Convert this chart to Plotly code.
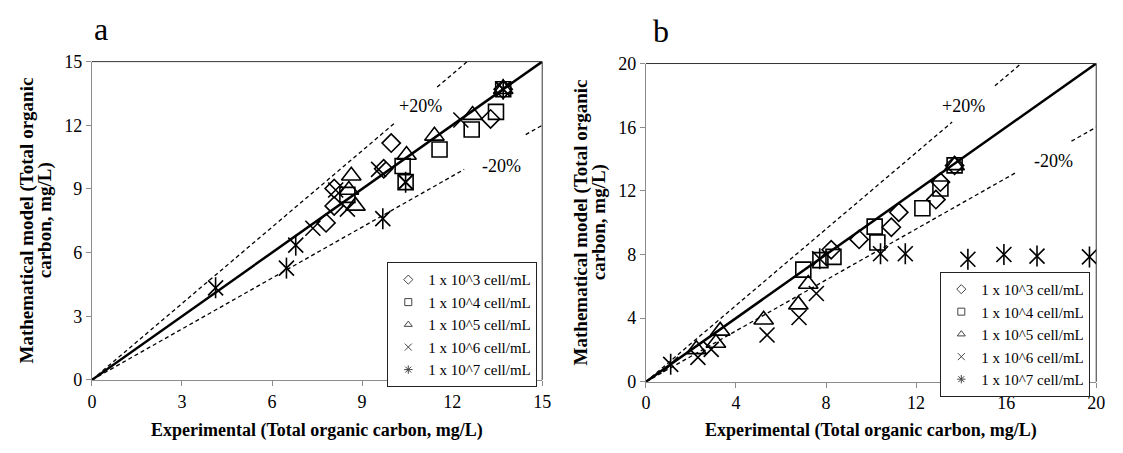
import plotly.graph_objects as go

# ---------------- data ----------------
SERIES_NAMES = ["1 x 10^3 cell/mL", "1 x 10^4 cell/mL", "1 x 10^5 cell/mL",
                "1 x 10^6 cell/mL", "1 x 10^7 cell/mL"]

# Panel a (experimental x, model y)
A_D3_X = [7.8, 8.07, 8.07, 9.72, 9.97, 13.28, 13.7]
A_D3_Y = [7.4, 8.2, 9.02, 9.95, 11.16, 12.3, 13.7]
A_S4_X = [8.51, 10.35, 10.45, 11.58, 12.65, 13.46, 13.7]
A_S4_Y = [8.72, 10.08, 9.32, 10.86, 11.8, 12.63, 13.7]
A_T5_X = [8.56, 8.64, 8.78, 10.48, 11.41, 12.68, 13.7]
A_T5_Y = [8.95, 9.62, 8.2, 10.6, 11.5, 12.48, 13.7]
A_X6_X = [7.36, 8.12, 8.51, 9.55, 10.45, 12.29, 13.7]
A_X6_Y = [7.15, 8.95, 8.05, 9.92, 9.32, 12.25, 13.7]
A_S7_X = [4.12, 6.48, 6.79, 9.69, 10.45, 13.7]
A_S7_Y = [4.34, 5.27, 6.35, 7.6, 9.32, 13.7]

# Panel b
B_D3_X = [8.23, 9.47, 10.9, 11.23, 12.88, 13.08, 13.71]
B_D3_Y = [8.3, 8.95, 9.71, 10.65, 11.45, 12.55, 13.6]
B_S4_X = [6.99, 7.75, 8.33, 10.16, 10.28, 12.28, 13.08, 13.71]
B_S4_Y = [7.05, 7.65, 7.85, 9.75, 8.75, 10.91, 12.15, 13.6]
B_T5_X = [2.24, 3.11, 3.3, 5.23, 6.77, 7.21, 13.71]
B_T5_Y = [2.04, 2.44, 3.2, 3.9, 4.85, 6.15, 13.6]
B_X6_X = [2.31, 2.9, 5.38, 6.8, 7.57]
B_X6_Y = [1.54, 2.04, 2.94, 4.04, 5.55]
B_S7_X = [1.1, 7.72, 10.42, 11.52, 14.3, 15.9, 17.37, 19.7]
B_S7_Y = [1.1, 7.73, 8.05, 8.05, 7.7, 8.0, 7.9, 7.85]

# Reference lines (1:1 and +/-20 %), x breakpoints (None = gap behind label)
A_LINE_X = [0, 15]
A_PLUS_X = [0, 10.1, None, 11.5, 12.5]
A_MINUS_X = [0, 12.4, None, 14.45, 15]
B_LINE_X = [0, 20]
B_PLUS_X = [0, 13.6, None, 15.5, 16.67]
B_MINUS_X = [0, 16.4, None, 18.9, 20]
PLUS_FACTOR = 1.2
MINUS_FACTOR = 0.8

A_TICKS = [0, 3, 6, 9, 12, 15]
B_TICKS = [0, 4, 8, 12, 16, 20]

X_TITLE = "Experimental (Total organic carbon, mg/L)"
Y_TITLE_1 = "Mathematical model (Total organic"
Y_TITLE_2 = "carbon, mg/L)"

# ---------------- figure ----------------
FONT = "Liberation Serif, Times New Roman, serif"
W, H = 1123, 453

fig = go.Figure()


def scale(xs, f):
    return [None if v is None else v * f for v in xs]


def add_panel(xa, ya, legend, line_x, plus_x, minus_x, series):
    # reference lines
    fig.add_trace(go.Scatter(x=line_x, y=line_x, mode="lines", xaxis=xa, yaxis=ya,
                             line=dict(color="black", width=2.5), showlegend=False,
                             hoverinfo="skip"))
    for xs, f in ((plus_x, PLUS_FACTOR), (minus_x, MINUS_FACTOR)):
        fig.add_trace(go.Scatter(x=xs, y=scale(xs, f), mode="lines", xaxis=xa, yaxis=ya,
                                 line=dict(color="black", width=1.3, dash="4px,3px"),
                                 showlegend=False, connectgaps=False, hoverinfo="skip"))
    symbols = ["diamond-open", "square-open", "triangle-up-open", "x-thin-open", None]
    sizes = [14, 15, 17, 15, 15]
    legend_symbols = ["diamond-open", "square-open", "triangle-up-open", "x-thin-open",
                      "asterisk-open"]
    for i, (sx, sy) in enumerate(series):
        if symbols[i] is not None:
            fig.add_trace(go.Scatter(x=sx, y=sy, mode="markers", xaxis=xa, yaxis=ya,
                                     marker=dict(symbol=symbols[i], size=sizes[i], color="black",
                                                 line=dict(color="black", width=1.6)),
                                     name=SERIES_NAMES[i], showlegend=False))
        else:
            for sym in ("x-thin-open", "line-ns-open"):
                fig.add_trace(go.Scatter(x=sx, y=sy, mode="markers", xaxis=xa, yaxis=ya,
                                         marker=dict(symbol=sym, size=sizes[i], color="black",
                                                     line=dict(color="black", width=1.6)),
                                         name=SERIES_NAMES[i], showlegend=False))
        # legend-only entry with small glyph
        fig.add_trace(go.Scatter(x=[None], y=[None], mode="markers", xaxis=xa, yaxis=ya,
                                 marker=dict(symbol=legend_symbols[i], size=7, color="#444",
                                             line=dict(color="#444", width=1)),
                                 name=SERIES_NAMES[i], legend=legend, showlegend=True))


add_panel("x", "y", "legend", A_LINE_X, A_PLUS_X, A_MINUS_X,
          [(A_D3_X, A_D3_Y), (A_S4_X, A_S4_Y), (A_T5_X, A_T5_Y), (A_X6_X, A_X6_Y),
           (A_S7_X, A_S7_Y)])
add_panel("x2", "y2", "legend2", B_LINE_X, B_PLUS_X, B_MINUS_X,
          [(B_D3_X, B_D3_Y), (B_S4_X, B_S4_Y), (B_T5_X, B_T5_Y), (B_X6_X, B_X6_Y),
           (B_S7_X, B_S7_Y)])

axis_common = dict(showgrid=False, zeroline=False, showline=True, linecolor="#8c8c8c",
                   linewidth=1, ticks="outside", ticklen=5, tickcolor="#8c8c8c",
                   tickfont=dict(family=FONT, size=18, color="black"), mirror=False)

legend_common = dict(xanchor="right", yanchor="top", bgcolor="white", bordercolor="#222",
                     borderwidth=1, font=dict(family=FONT, size=15, color="black"),
                     itemwidth=30, tracegroupgap=0)

fig.update_layout(
    width=W, height=H,
    margin=dict(l=0, r=0, t=0, b=0),
    paper_bgcolor="white", plot_bgcolor="white",
    font=dict(family=FONT, color="black"),
    xaxis=dict(domain=[88 / W, 544 / W], range=[0, 15], tickvals=A_TICKS, anchor="y",
               **axis_common),
    yaxis=dict(domain=[1 - 387 / H, 1 - 54 / H], range=[0, 15], tickvals=A_TICKS, anchor="x",
               **axis_common),
    xaxis2=dict(domain=[649 / W, 1105 / W], range=[0, 20], tickvals=B_TICKS, anchor="y2",
                **axis_common),
    yaxis2=dict(domain=[1 - 389 / H, 1 - 56 / H], range=[0, 20], tickvals=B_TICKS, anchor="x2",
                **axis_common),
    legend=dict(x=539 / W, y=1 - 264 / H, **legend_common),
    legend2=dict(x=1099 / W, y=1 - 274 / H, **legend_common),
)

# plot-area border (top and right)
for xr, yr in (("x domain", "y domain"), ("x2 domain", "y2 domain")):
    fig.add_shape(type="line", xref=xr, yref=yr, x0=0, x1=1, y0=1, y1=1,
                  line=dict(color="#333", width=1))
    fig.add_shape(type="line", xref=xr, yref=yr, x0=1, x1=1, y0=0, y1=1,
                  line=dict(color="#333", width=1))

annotations = [
    # panel letters
    dict(text="a", xref="x domain", yref="y domain", x=0.0, y=1.0, xanchor="left",
         yanchor="bottom", yshift=13, xshift=0, font=dict(size=32)),
    dict(text="b", xref="x2 domain", yref="y2 domain", x=0.0, y=1.0, xanchor="left",
         yanchor="bottom", yshift=13, xshift=5, font=dict(size=32)),
    # +/- 20 % labels
    dict(text="+20%", xref="x", yref="y", x=10.95, y=12.9, font=dict(size=18)),
    dict(text="-20%", xref="x", yref="y", x=13.65, y=10.1, font=dict(size=18)),
    dict(text="+20%", xref="x2", yref="y2", x=14.1, y=17.3, font=dict(size=18)),
    dict(text="-20%", xref="x2", yref="y2", x=18.1, y=13.9, font=dict(size=18)),
    # axis titles
    dict(text="<b>" + X_TITLE + "</b>", xref="x domain", yref="paper", x=0.5, y=1 - 440 / H,
         font=dict(size=18)),
    dict(text="<b>" + X_TITLE + "</b>", xref="x2 domain", yref="paper", x=0.5, y=1 - 440 / H,
         font=dict(size=18)),
    dict(text="<b>" + Y_TITLE_1 + "</b>", xref="paper", yref="y domain", x=22 / W, y=0.5,
         textangle=-90, font=dict(size=19)),
    dict(text="<b>" + Y_TITLE_2 + "</b>", xref="paper", yref="y domain", x=40 / W, y=0.5,
         textangle=-90, font=dict(size=19)),
    dict(text="<b>" + Y_TITLE_1 + "</b>", xref="paper", yref="y2 domain", x=583 / W, y=0.5,
         textangle=-90, font=dict(size=19)),
    dict(text="<b>" + Y_TITLE_2 + "</b>", xref="paper", yref="y2 domain", x=601 / W, y=0.5,
         textangle=-90, font=dict(size=19)),
]
for a in annotations:
    a.setdefault("showarrow", False)
    a.setdefault("xanchor", "center")
    a.setdefault("yanchor", "middle")
    a["font"] = dict(family=FONT, color="black", **a["font"])
    fig.add_annotation(**a)

fig.write_html("out.html")
